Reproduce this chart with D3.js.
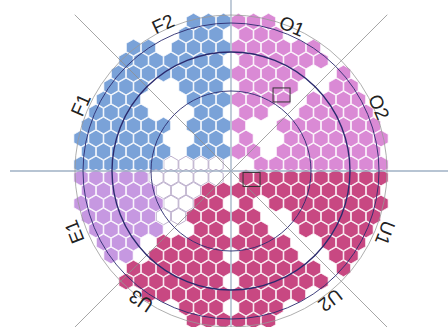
<!DOCTYPE html>
<html><head><meta charset="utf-8">
<script src="https://cdn.jsdelivr.net/npm/d3@7"></script>
<style>html,body{margin:0;padding:0;background:#fff;overflow:hidden}</style>
</head><body><svg id="chart" width="448" height="327"></svg>
<script>
// Sector labels with their angle (degrees, clockwise from east) and radius
const labels      = ["O2", "U1", "U2", "U3", "E1", "F1", "F2", "O1"];
const labelAngles = [-23.4, 21.9, 52.5, 124.7, 158.8, -156.3, -114.8, -67.2];
const labelRadii  = [161, 166, 163, 158, 168, 164, 162, 157];

// Group colours
const groupCodes  = ["F", "O", "E", "U"];
const groupColors = ["#7aa2d8", "#da8ad5", "#c698e1", "#c84882"];

// Cell layout per quadrant, row 0 = nearest the horizontal axis,
// character i = i-th cell outward from the vertical axis.
// Letter = occupied cell of that group, "o" = vacant outlined cell, "." = no cell.
const upperLeft = [
  "ooooFFFFFF",
  "FFF.FFFFFF",
  "FF..FFFFFF",
  "FFF.FFFFFF",
  "FF...FFFF",
  "FFF...FFF",
  "FFF..FFF",
  "FFFFFFFF",
  "FFFFFFF",
  "FFFF.FF",
  "FFF..",
  "FFF"
];
const upperRight = [
  ".OOOOOOOOO",
  "OO.OOOOOOO",
  "O..OOOOOOO",
  "O..OOOOOOO",
  "OO..OOOOO",
  "OOOO.OOOO",
  "OOOO..OO",
  "OOOOO..O",
  "OOOOOO.",
  "OOOOOO.",
  "OOO..",
  "OOO"
];
const lowerLeft = [
  "oooooEEEEE",
  "UUoooEEEEE",
  "UUooEEEEEE",
  "UUUooEEEEE",
  "UU..EEEEE",
  "UUUUU.EEE",
  "UUUUU.EE",
  "UUUUUUU.",
  "UUUUUUU",
  "UUUUUU.",
  "UUU..",
  "UUU"
];
const lowerRight = [
  "UUUUUUUUUU",
  "UUUUUUUUUU",
  "U.UUUUUUUU",
  "UU..UUUUUU",
  "UU..UUUUU",
  "UUUU..UUU",
  "UUUU..UU",
  "UUUUUU.U",
  "UUUUUU.",
  "UUUUU..",
  "UUU..",
  "UUU"
];

// Highlight boxes: centre in grid units (columns, rows from centre)
const boxX = [3.37, 1.37];
const boxY = [-5.85, 0.65];

const ringRadii = [80, 119, 148];   // dark reference rings
const outerRing = 156;              // grey boundary ring

const cx = 231, cy = 171, colW = 15, rowH = 13;
const svg = d3.select("#chart");
const x = d3.scaleLinear().domain([-12, 12]).range([cx - 12*colW, cx + 12*colW]);
const y = d3.scaleLinear().domain([-13, 13]).range([cy - 13*rowH, cy + 13*rowH]);
const color = d3.scaleOrdinal().domain(groupCodes).range(groupColors);
const hexR = rowH / 1.5;

const quadrants = [
  {rows: upperLeft,  sx: -1, sy: -1},
  {rows: upperRight, sx:  1, sy: -1},
  {rows: lowerLeft,  sx: -1, sy:  1},
  {rows: lowerRight, sx:  1, sy:  1}
];
const cells = [];
quadrants.forEach(q => q.rows.forEach((row, k) => {
  [...row].forEach((ch, i) => {
    if (ch === ".") return;
    const xu = q.sx * ((k % 2 ? 0.5 : 1) + i);
    const yu = q.sy * (0.5 + k);
    cells.push({px: x(xu), py: y(yu), code: ch});
  });
}));

function hexPath(r) {
  const p = d3.path();
  for (let j = 0; j < 6; j++) {
    const t = (-90 + 60*j) * Math.PI/180;
    const X = r*Math.cos(t), Y = r*Math.sin(t);
    j ? p.lineTo(X, Y) : p.moveTo(X, Y);
  }
  p.closePath();
  return p.toString();
}

// Cells
svg.append("g").selectAll("path").data(cells).join("path")
  .attr("transform", d => `translate(${d.px},${d.py})`)
  .attr("d", hexPath(hexR - 0.4))
  .attr("fill", d => d.code === "o" ? "#fff" : color(d.code))
  .attr("stroke", d => d.code === "o" ? "#b7a8c8" : "#fff")
  .attr("stroke-opacity", d => d.code === "o" ? 1 : 0.85)
  .attr("stroke-width", 0.9);

// Guide lines: diagonals, axes and rings
const over = svg.append("g");
[45, 135, 225, 315].forEach(a => {
  const t = a*Math.PI/180;
  over.append("line").attr("x1", cx).attr("y1", cy)
    .attr("x2", cx + 221*Math.cos(t)).attr("y2", cy + 221*Math.sin(t))
    .attr("stroke", "#8f8f8f").attr("stroke-width", 0.8);
});
over.append("line").attr("x1", cx).attr("y1", cy - 221).attr("x2", cx).attr("y2", cy + 221)
  .attr("stroke", "#9fb0c4").attr("stroke-width", 1.3);
over.append("line").attr("x1", cx - 221).attr("y1", cy).attr("x2", cx + 221).attr("y2", cy)
  .attr("stroke", "#9fb0c4").attr("stroke-width", 1.3);
over.append("circle").attr("cx", cx).attr("cy", cy).attr("r", outerRing)
  .attr("fill", "none").attr("stroke", "#999").attr("stroke-width", 0.8);
ringRadii.forEach((r, j) => over.append("circle").attr("cx", cx).attr("cy", cy).attr("r", r)
  .attr("fill", "none").attr("stroke", "#2a2a6e").attr("stroke-width", j === 1 ? 1.4 : 0.9));

// Highlight boxes
boxX.forEach((bx, j) => over.append("rect")
  .attr("x", x(bx) - 8.5).attr("y", y(boxY[j]) - 7).attr("width", 17).attr("height", 14)
  .attr("fill", "none").attr("stroke", "#333").attr("stroke-width", 1));

// Sector labels, tangent to the ring with tops facing outward
labels.forEach((L, j) => {
  const a = labelAngles[j], t = a*Math.PI/180, r = labelRadii[j];
  svg.append("text")
    .attr("transform", `translate(${cx + r*Math.cos(t)},${cy + r*Math.sin(t)}) rotate(${a + 90})`)
    .attr("text-anchor", "middle").attr("dominant-baseline", "central")
    .attr("font-family", "Liberation Sans, Arial, sans-serif").attr("font-size", 19)
    .attr("fill", "#222").text(L);
});
</script></body></html>
